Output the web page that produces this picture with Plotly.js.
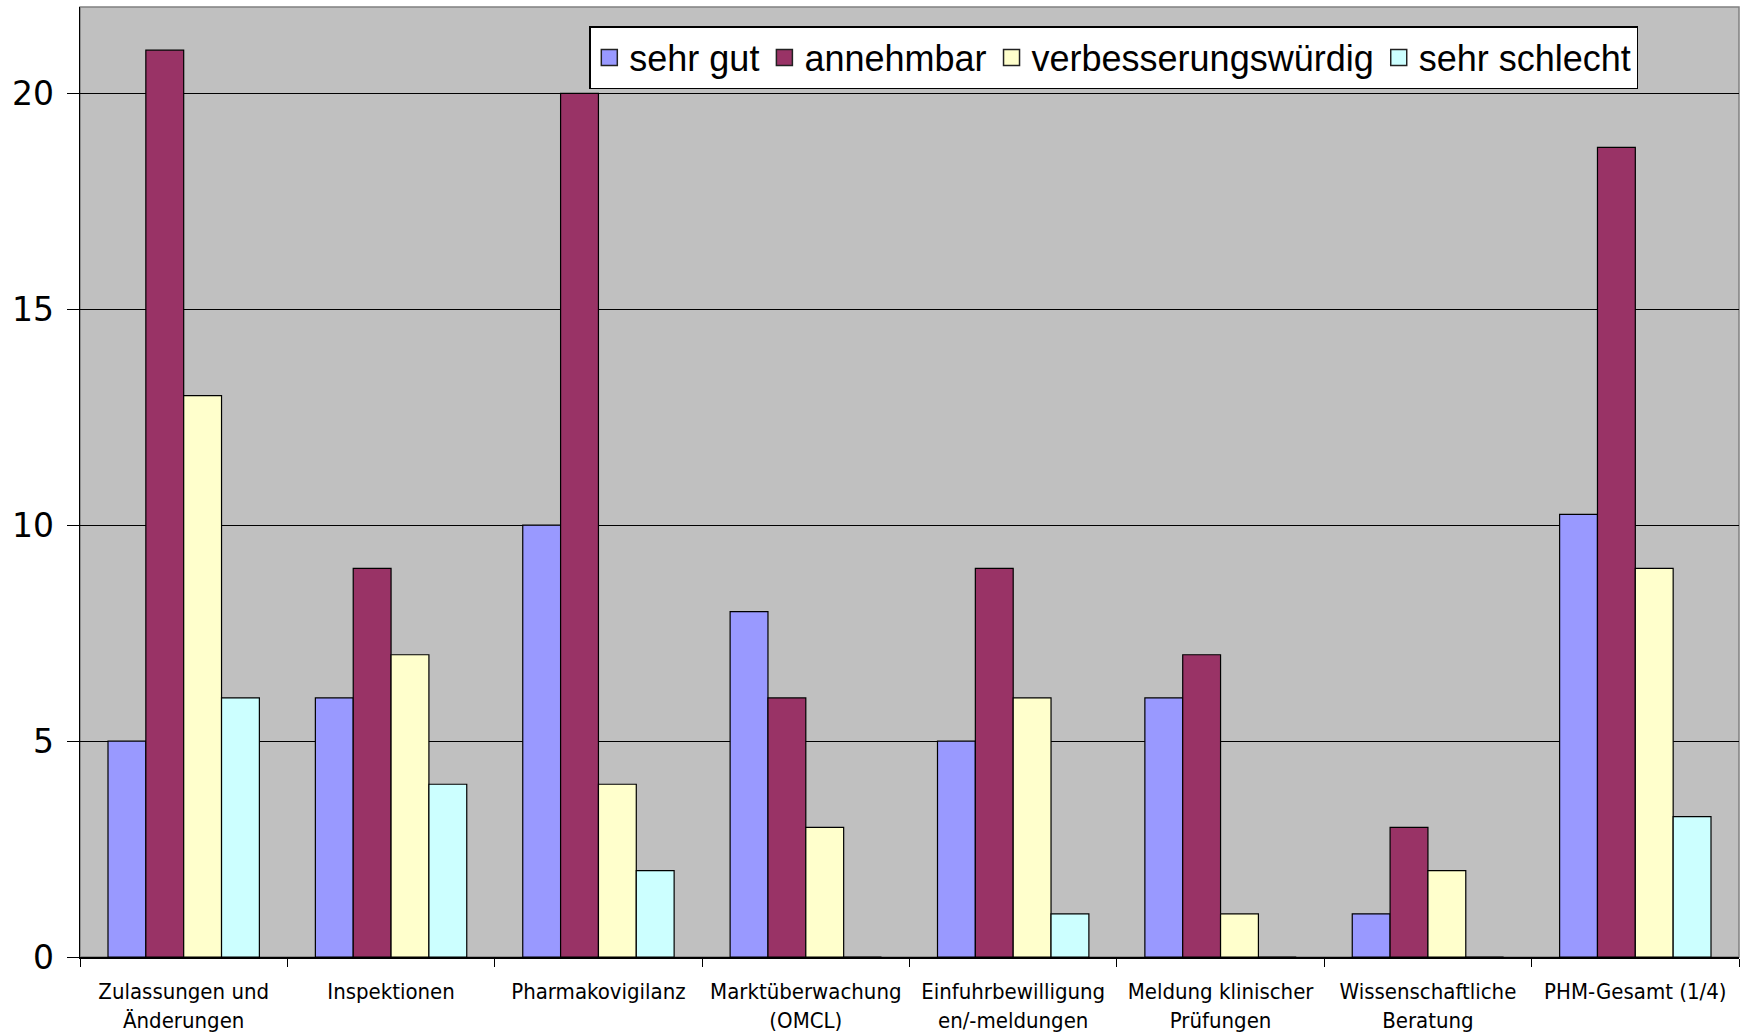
<!DOCTYPE html>
<html>
<head>
<meta charset="utf-8">
<script src="https://cdn.plot.ly/plotly-3.0.1.min.js"></script>
<style>html,body{margin:0;padding:0;background:#fff;}#chart{width:1745px;height:1033px;}</style>
</head>
<body>
<div id="chart"></div>
<script>
const categories = [
  "Zulassungen und<br>Änderungen",
  "Inspektionen",
  "Pharmakovigilanz",
  "Marktüberwachung<br>(OMCL)",
  "Einfuhrbewilligung<br>en/-meldungen",
  "Meldung klinischer<br>Prüfungen",
  "Wissenschaftliche<br>Beratung",
  "PHM-Gesamt (1/4)"
];
const seriesNames = ["sehr gut", "annehmbar", "verbesserungswürdig", "sehr schlecht"];
const sehrGut = [5, 6, 10, 8, 5, 6, 1, 10.25];
const annehmbar = [21, 9, 20, 6, 9, 7, 3, 18.75];
const verbesserungswuerdig = [13, 7, 4, 3, 6, 1, 2, 9];
const sehrSchlecht = [6, 4, 2, 0, 1, 0, 0, 3.25];
const yTicks = [0, 5, 10, 15, 20];

const colors = ["#9999FF", "#993366", "#FFFFCC", "#CCFFFF"];
const values = [sehrGut, annehmbar, verbesserungswuerdig, sehrSchlecht];

const traces = values.map((v, i) => ({
  type: "bar",
  name: seriesNames[i],
  legendgroup: "g" + i,
  showlegend: false,
  x: categories,
  y: v,
  marker: {color: colors[i], line: {color: "#000", width: 1.2}},
  hoverinfo: "x+y+name"
}));

// legend-only entries with larger square swatches
const legendTraces = seriesNames.map((n, i) => ({
  type: "scatter",
  mode: "markers",
  name: n,
  legendgroup: "g" + i,
  x: [null],
  y: [null],
  marker: {symbol: "square", size: 16, color: colors[i], line: {color: "#222", width: 1.5}},
  hoverinfo: "skip"
}));

const layout = {
  width: 1745,
  height: 1033,
  paper_bgcolor: "#ffffff",
  plot_bgcolor: "#C0C0C0",
  margin: {l: 80, r: 6, t: 7, b: 76},
  barmode: "group",
  bargap: 0.27,
  bargroupgap: 0,
  showlegend: true,
  legend: {
    orientation: "h",
    x: 0.307, xanchor: "left",
    y: 0.98, yanchor: "top",
    bgcolor: "#ffffff",
    bordercolor: "#000",
    borderwidth: 1.5,
    font: {family: "Liberation Sans, Arial, sans-serif", size: 36, color: "#000"},
    itemwidth: 30,
    itemsizing: "trace",
    tracegroupgap: 0
  },
  xaxis: {
    type: "category",
    tickson: "boundaries",
    ticks: "outside",
    ticklen: 8,
    tickcolor: "#000",
    showline: true,
    linecolor: "#000",
    linewidth: 1.5,
    showgrid: false,
    ticklabelstandoff: 14,
    tickfont: {family: "DejaVu Sans Condensed, DejaVu Sans, sans-serif", size: 22, color: "#000"},
    tickangle: 0,
    fixedrange: true
  },
  yaxis: {
    range: [0, 22],
    tickvals: yTicks,
    ticktext: yTicks.map(String),
    ticks: "outside",
    ticklen: 12,
    tickcolor: "#000",
    showline: true,
    linecolor: "#000",
    linewidth: 1.5,
    showgrid: true,
    gridcolor: "#000",
    gridwidth: 1,
    zeroline: false,
    ticklabelstandoff: 6,
    tickfont: {family: "DejaVu Sans, Verdana, sans-serif", size: 33, color: "#000"}
  },
  shapes: [{
    type: "rect", xref: "paper", yref: "paper",
    x0: 0, x1: 1, y0: 0, y1: 1,
    line: {color: "#808080", width: 1.5},
    layer: "below"
  }]
};

Plotly.newPlot("chart", traces.concat(legendTraces), layout, {displayModeBar: false, staticPlot: true});
</script>
</body>
</html>
